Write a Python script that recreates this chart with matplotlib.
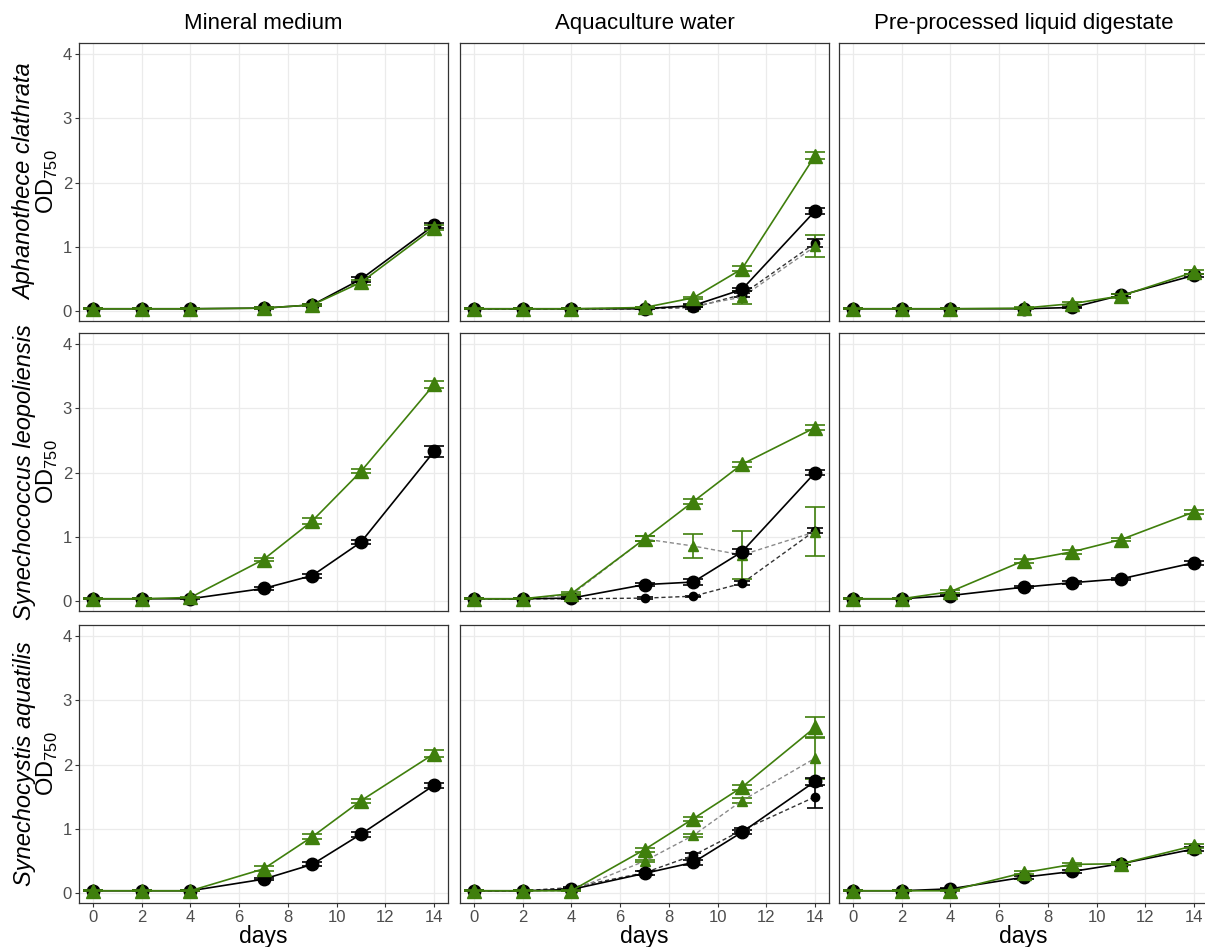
import numpy as np
import matplotlib
matplotlib.use("Agg")
import matplotlib.pyplot as plt

plt.rcParams['font.family'] = ['Liberation Sans', 'DejaVu Sans']
plt.rcParams['mathtext.fontset'] = 'custom'
plt.rcParams['mathtext.rm'] = 'Liberation Sans'

days = [0, 2, 4, 7, 9, 11, 14]
media = ['Mineral medium', 'Aquaculture water', 'Pre-processed liquid digestate']
species = ['Aphanothece clathrata', 'Synechococcus leopoliensis', 'Synechocystis aquatilis']

GREEN = '#3f7f0c'

# Aphanothece clathrata
aph_min_k = [0.04, 0.04, 0.04, 0.05, 0.10, 0.50, 1.34]
aph_min_k_sd = [0.01, 0.01, 0.01, 0.01, 0.02, 0.04, 0.04]
aph_min_g = [0.04, 0.04, 0.04, 0.05, 0.10, 0.45, 1.30]
aph_min_g_sd = [0.01, 0.01, 0.01, 0.01, 0.02, 0.04, 0.04]

aph_aqu_k = [0.04, 0.04, 0.04, 0.04, 0.09, 0.34, 1.56]
aph_aqu_k_sd = [0.01, 0.01, 0.01, 0.01, 0.02, 0.03, 0.05]
aph_aqu_g = [0.04, 0.04, 0.04, 0.06, 0.21, 0.66, 2.42]
aph_aqu_g_sd = [0.01, 0.01, 0.01, 0.01, 0.02, 0.04, 0.05]
aph_aqu_kd = [0.04, 0.04, 0.04, 0.04, 0.06, 0.26, 1.06]
aph_aqu_kd_sd = [0.01, 0.01, 0.01, 0.01, 0.02, 0.03, 0.06]
aph_aqu_gd = [0.04, 0.04, 0.04, 0.05, 0.08, 0.22, 1.01]
aph_aqu_gd_sd = [0.01, 0.01, 0.01, 0.01, 0.02, 0.10, 0.17]

aph_dig_k = [0.04, 0.04, 0.04, 0.04, 0.06, 0.25, 0.56]
aph_dig_k_sd = [0.01, 0.01, 0.01, 0.01, 0.01, 0.02, 0.02]
aph_dig_g = [0.04, 0.04, 0.04, 0.05, 0.12, 0.24, 0.61]
aph_dig_g_sd = [0.01, 0.01, 0.01, 0.01, 0.02, 0.03, 0.03]

# Synechococcus leopoliensis
syc_min_k = [0.04, 0.04, 0.04, 0.20, 0.40, 0.92, 2.33]
syc_min_k_sd = [0.01, 0.01, 0.01, 0.02, 0.03, 0.03, 0.08]
syc_min_g = [0.04, 0.04, 0.06, 0.65, 1.25, 2.02, 3.37]
syc_min_g_sd = [0.01, 0.01, 0.01, 0.03, 0.05, 0.03, 0.06]

syc_aqu_k = [0.04, 0.04, 0.05, 0.26, 0.30, 0.77, 2.00]
syc_aqu_k_sd = [0.01, 0.01, 0.01, 0.02, 0.04, 0.04, 0.04]
syc_aqu_g = [0.04, 0.04, 0.12, 0.97, 1.55, 2.13, 2.70]
syc_aqu_g_sd = [0.01, 0.01, 0.02, 0.04, 0.04, 0.04, 0.04]
syc_aqu_kd = [0.04, 0.04, 0.04, 0.05, 0.08, 0.28, 1.10]
syc_aqu_kd_sd = [0.01, 0.01, 0.01, 0.01, 0.01, 0.03, 0.04]
syc_aqu_gd = [0.04, 0.04, 0.10, 0.97, 0.86, 0.72, 1.08]
syc_aqu_gd_sd = [0.01, 0.01, 0.02, 0.04, 0.18, 0.38, 0.38]

syc_dig_k = [0.04, 0.04, 0.09, 0.22, 0.29, 0.35, 0.60]
syc_dig_k_sd = [0.01, 0.01, 0.01, 0.02, 0.02, 0.02, 0.03]
syc_dig_g = [0.04, 0.04, 0.15, 0.63, 0.77, 0.96, 1.39]
syc_dig_g_sd = [0.01, 0.01, 0.02, 0.03, 0.03, 0.03, 0.03]

# Synechocystis aquatilis
sys_min_k = [0.04, 0.04, 0.04, 0.22, 0.45, 0.92, 1.68]
sys_min_k_sd = [0.01, 0.01, 0.01, 0.02, 0.03, 0.04, 0.04]
sys_min_g = [0.04, 0.04, 0.04, 0.38, 0.88, 1.44, 2.17]
sys_min_g_sd = [0.01, 0.01, 0.01, 0.04, 0.04, 0.03, 0.05]

sys_aqu_k = [0.04, 0.04, 0.06, 0.31, 0.48, 0.95, 1.74]
sys_aqu_k_sd = [0.01, 0.01, 0.01, 0.03, 0.04, 0.03, 0.05]
sys_aqu_g = [0.04, 0.04, 0.04, 0.68, 1.16, 1.65, 2.58]
sys_aqu_g_sd = [0.01, 0.01, 0.01, 0.03, 0.03, 0.04, 0.16]
sys_aqu_kd = [0.04, 0.04, 0.09, 0.32, 0.59, 0.98, 1.50]
sys_aqu_kd_sd = [0.01, 0.01, 0.01, 0.03, 0.04, 0.03, 0.17]
sys_aqu_gd = [0.04, 0.04, 0.04, 0.50, 0.90, 1.44, 2.10]
sys_aqu_gd_sd = [0.01, 0.01, 0.01, 0.02, 0.03, 0.04, 0.33]

sys_dig_k = [0.04, 0.04, 0.07, 0.25, 0.34, 0.46, 0.69]
sys_dig_k_sd = [0.01, 0.01, 0.01, 0.02, 0.02, 0.02, 0.03]
sys_dig_g = [0.04, 0.04, 0.04, 0.32, 0.45, 0.46, 0.74]
sys_dig_g_sd = [0.01, 0.01, 0.01, 0.02, 0.02, 0.02, 0.03]

panels = [
    [(aph_min_k, aph_min_k_sd, aph_min_g, aph_min_g_sd, None),
     (aph_aqu_k, aph_aqu_k_sd, aph_aqu_g, aph_aqu_g_sd,
      (aph_aqu_kd, aph_aqu_kd_sd, aph_aqu_gd, aph_aqu_gd_sd)),
     (aph_dig_k, aph_dig_k_sd, aph_dig_g, aph_dig_g_sd, None)],
    [(syc_min_k, syc_min_k_sd, syc_min_g, syc_min_g_sd, None),
     (syc_aqu_k, syc_aqu_k_sd, syc_aqu_g, syc_aqu_g_sd,
      (syc_aqu_kd, syc_aqu_kd_sd, syc_aqu_gd, syc_aqu_gd_sd)),
     (syc_dig_k, syc_dig_k_sd, syc_dig_g, syc_dig_g_sd, None)],
    [(sys_min_k, sys_min_k_sd, sys_min_g, sys_min_g_sd, None),
     (sys_aqu_k, sys_aqu_k_sd, sys_aqu_g, sys_aqu_g_sd,
      (sys_aqu_kd, sys_aqu_kd_sd, sys_aqu_gd, sys_aqu_gd_sd)),
     (sys_dig_k, sys_dig_k_sd, sys_dig_g, sys_dig_g_sd, None)],
]

W, H = 1205, 947
fig = plt.figure(figsize=(W / 100, H / 100), dpi=100)

col_left = [79, 460, 839]
col_w = 369
row_top = [43, 333, 625]
row_h = 278


def series(ax, y, sd, color, marker, ms, ls, lc, lw, cap, z):
    ax.errorbar(days, y, yerr=sd, color=lc, ls=ls, lw=lw, marker=marker,
                ms=ms, mfc=color, mec=color, ecolor=color, elinewidth=1.2,
                capsize=cap, capthick=1.2, zorder=z)


for r in range(3):
    for c in range(3):
        ax = fig.add_axes([col_left[c] / W, 1 - (row_top[r] + row_h) / H,
                           col_w / W, row_h / H])
        k, ksd, g, gsd, dashed = panels[r][c]
        if dashed is not None:
            kd, kdsd, gd, gdsd = dashed
            series(ax, kd, kdsd, 'black', 'o', 6, (0, (3, 2)), '#333333', 1.0, 6, 3)
            series(ax, gd, gdsd, GREEN, '^', 7, (0, (3, 2)), '#8a8a8a', 1.0, 7, 3)
        series(ax, k, ksd, 'black', 'o', 9, '-', 'black', 1.2, 7, 4)
        series(ax, g, gsd, GREEN, '^', 9.5, '-', GREEN, 1.2, 7, 5)

        ax.set_xlim(-0.57, 14.57)
        ax.set_ylim(-0.15, 4.17)
        ax.set_xticks([0, 2, 4, 6, 8, 10, 12, 14])
        ax.set_yticks([0, 1, 2, 3, 4])
        ax.grid(True, color='#ebebeb', lw=0.9)
        ax.set_axisbelow(True)
        for s in ax.spines.values():
            s.set_color('#333333')
            s.set_linewidth(0.9)
        ax.tick_params(colors='#333333', labelcolor='#4d4d4d', labelsize=12,
                       length=3, width=0.8, pad=2)
        if c > 0:
            ax.tick_params(axis='y', left=False, labelleft=False)
        if r < 2:
            ax.tick_params(axis='x', bottom=False, labelbottom=False)
        else:
            ax.set_xlabel('days', fontsize=16.5, labelpad=0)
        if r == 0:
            ax.set_title(media[c], fontsize=16, pad=10)
        if c == 0:
            yc = 1 - (row_top[r] + row_h / 2) / H
            fig.text(25 / W, yc, species[r], rotation=90, style='italic',
                     fontsize=17, ha='center', va='center')
            fig.text(47 / W, yc, 'OD$_{750}$', rotation=90,
                     fontsize=17, ha='center', va='center')

fig.savefig('out.png', dpi=100)
